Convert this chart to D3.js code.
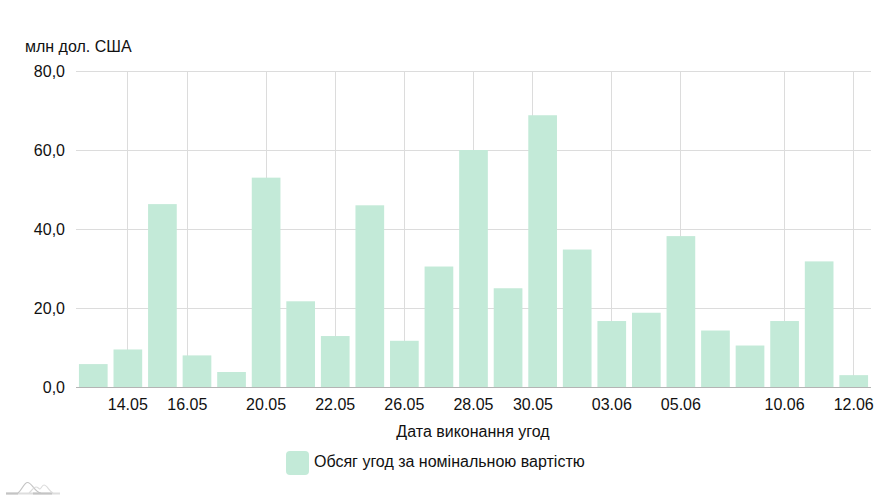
<!DOCTYPE html>
<html><head><meta charset="utf-8">
<script src="https://cdn.jsdelivr.net/npm/d3@7"></script>
<style>html,body{margin:0;background:#fff}svg{display:block}text{font-family:"Liberation Sans",Arial,sans-serif;font-size:16px;fill:#111}</style>
</head><body><svg id="c" width="891" height="500"></svg>
<script>
const values=[5.8,9.5,46.3,8,3.8,53,21.7,12.9,46,11.7,30.5,60,25,68.8,34.8,16.7,18.8,38.2,14.3,10.5,16.7,31.8,3];
const tickLabels=["14.05","16.05","20.05","22.05","26.05","28.05","30.05","03.06","05.06","10.06","12.06"];
const tickSlots=[1,2.72,5,7,9,11,12.72,15,17,20,22];
const yTicks=[0,20,40,60,80];
const yTitle="млн дол. США", xTitle="Дата виконання угод", seriesName="Обсяг угод за номінальною вартістю";
const barColor="#c3ead8", gridColor="#dcdcdc", axisColor="#b4b4b4";
const svg=d3.select("#c");
const x=d3.scaleBand().domain(d3.range(values.length)).range([76,871]).paddingInner(0.17).paddingOuter(0.085);
const slot=d3.scaleLinear().domain([0,values.length]).range([76,871]);
const y=d3.scaleLinear().domain([0,80]).range([387,71]);
svg.append("g").selectAll("line").data(yTicks.filter(d=>d>0)).join("line")
 .attr("x1",76).attr("x2",871).attr("y1",d=>Math.round(y(d))+.5).attr("y2",d=>Math.round(y(d))+.5).attr("stroke",gridColor);
svg.append("g").selectAll("line").data(tickSlots).join("line")
 .attr("x1",d=>Math.floor(slot(d+.5))+.5).attr("x2",d=>Math.floor(slot(d+.5))+.5).attr("y1",71).attr("y2",387).attr("stroke",gridColor);
svg.append("g").selectAll("rect").data(values).join("rect")
 .attr("x",(d,i)=>x(i)).attr("width",x.bandwidth()).attr("y",d=>y(d)).attr("height",d=>y(0)-y(d)).attr("fill",barColor);
svg.append("line").attr("x1",76).attr("x2",871).attr("y1",387.5).attr("y2",387.5).attr("stroke",axisColor);
svg.append("g").selectAll("text").data(yTicks).join("text")
 .attr("x",65).attr("y",d=>y(d)+5.5).attr("text-anchor","end").text(d=>d3.format(".1f")(d).replace(".",","));
svg.append("g").selectAll("text").data(tickLabels).join("text")
 .attr("x",(d,i)=>slot(tickSlots[i]+.5)).attr("y",410).attr("text-anchor","middle").text(d=>d);
svg.append("text").attr("x",25).attr("y",52).text(yTitle);
svg.append("text").attr("x",473).attr("y",437).attr("text-anchor","middle").text(xTitle);
svg.append("rect").attr("x",286).attr("y",451).attr("width",23).attr("height",24).attr("rx",4).attr("fill",barColor);
svg.append("text").attr("x",314).attr("y",467).text(seriesName);
const logo=svg.append("g").attr("fill","none");
logo.append("path").attr("d","M6 493.5H60").attr("stroke","#dedede").attr("stroke-width",2);
logo.append("path").attr("d","M6 493.5H18M33 493.500H52").attr("stroke","#c4c4c4").attr("stroke-width",2);
logo.append("path").attr("d","M18 493C22 490 24 482.500 27.500 482.500C32 482.500 35 493 41 493").attr("stroke","#c4c4c4").attr("stroke-width",1.2);
logo.append("path").attr("d","M29 493C32 491 33 487 36 487C38 487 39 489 40 489C41 489 42 485 44 485C47 485 49 491 53 493").attr("stroke","#dcdcdc").attr("stroke-width",1.2);
</script></body></html>
